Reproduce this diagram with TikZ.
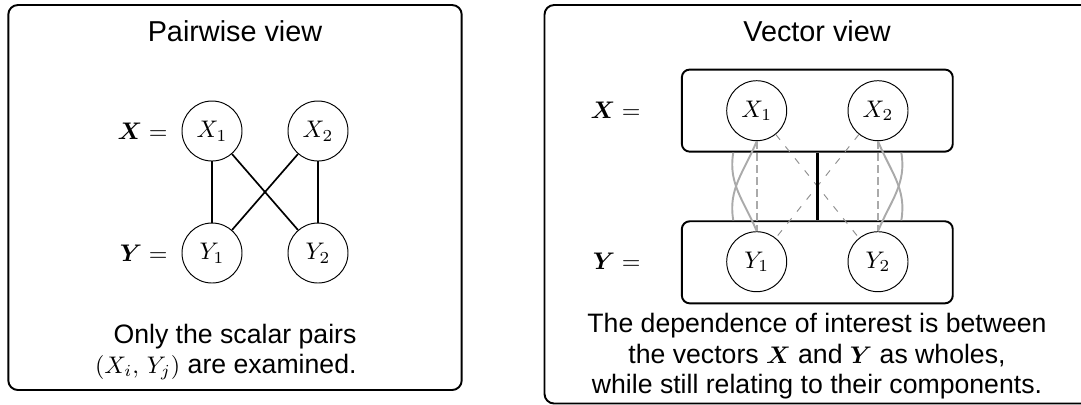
\documentclass[tikz,border=0pt]{standalone}
\usepackage{amsmath}
\usepackage[no-math]{fontspec}
\setsansfont{Liberation Sans}
\usetikzlibrary{calc}
\definecolor{lgray}{RGB}{170,170,170}
\definecolor{mgray}{RGB}{145,145,145}
\newcommand\mth[1]{{\fontsize{10}{12}\selectfont$#1$}}
\tikzset{
  frame/.style={draw, line width=0.8pt, rounded corners=4pt},
  title/.style={anchor=base, font=\fontsize{12}{14}\sffamily\selectfont, inner sep=0},
  body/.style={anchor=base, font=\fontsize{11.1}{13}\sffamily\selectfont, inner sep=0},
  var/.style={circle, draw, line width=0.4pt, minimum size=25pt, inner sep=0, fill=white, font=\fontsize{10}{12}\selectfont},
  lab/.style={anchor=east, inner sep=0, font=\fontsize{10}{12}\selectfont},
  pair/.style={line width=0.7pt},
  vecbox/.style={draw, line width=0.8pt, rounded corners=3.3pt, minimum width=112.9pt, minimum height=34.2pt, inner sep=0},
  twist/.style={draw=lgray, line width=0.8pt},
  vlink/.style={draw=lgray, line width=0.7pt, dash pattern=on 3.4pt off 1.6pt},
  dlink/.style={draw=mgray, line width=0.4pt, dash pattern=on 2.8pt off 3.6pt},
  whole/.style={line width=1.5pt},
}
\begin{document}
\begin{tikzpicture}[x=0.41667pt, y=-0.41667pt]
\useasboundingbox (0,0) rectangle (1081,404);
\clip (0,0) rectangle (1081,404);
% ---------- left panel ----------
\draw[frame] (8.3,5) rectangle (461.7,390);
\node[title] (t1) at (235,41.7) {Pairwise view};
\node[var] (pX1) at (212,131) {$X_1$};
\node[var] (pX2) at (318,131) {$X_2$};
\node[var] (pY1) at (212,253) {$Y_1$};
\node[var] (pY2) at (318,253) {$Y_2$};
\node[lab] (pXl) at (168,131) {$\boldsymbol{X} =$};
\node[lab] (pYl) at (168,253) {$\boldsymbol{Y} =$};
\draw[pair] (pX1) -- (pY1);
\draw[pair] (pX2) -- (pY2);
\draw[pair] (pX1) -- (pY2);
\draw[pair] (pX2) -- (pY1);
\node[body] (p1) at (235,343.3) {Only the scalar pairs};
\node[body, anchor=base east] (p2) at (357,373.3) {\mth{(X_i,\,Y_j)} are examined.};
% ---------- right panel (cut off at right and bottom) ----------
\draw[frame] (1100,5) -- (544.5,5) -- (544.5,403.5) -- (1100,403.5);
\node[title] (t2) at (817,41.7) {Vector view};
\node[vecbox] (XB) at (817.3,110.6) {};
\node[vecbox] (YB) at (817.3,262.3) {};
\node[var] (X1) at (756.7,110.7) {$X_1$};
\node[var] (X2) at (878,110.7) {$X_2$};
\node[var] (Y1) at (756.7,261.7) {$Y_1$};
\node[var] (Y2) at (878,261.7) {$Y_2$};
\node[lab] (vXl) at (641,110.7) {$\boldsymbol{X} =$};
\node[lab] (vYl) at (641,261.7) {$\boldsymbol{Y} =$};
\coordinate (xl) at ($(XB.south)+(-84,0)$);
\coordinate (xr) at ($(XB.south)+(84,0)$);
\coordinate (yl) at ($(YB.north)+(-84,0)$);
\coordinate (yr) at ($(YB.north)+(84,0)$);
\draw[vlink] (X1) -- (Y1);
\draw[vlink] (X2) -- (Y2);
\draw[dlink] (X1) -- (Y2);
\draw[dlink] (X2) -- (Y1);
\draw[twist] (xl) to[out=-100,in=112] (Y1.north);
\draw[twist] (X1.south) to[out=-112,in=100] (yl);
\draw[twist] (X2.south) to[out=-68,in=80] (yr);
\draw[twist] (xr) to[out=-80,in=68] (Y2.north);
\draw[whole] (XB.south) -- (YB.north);
\node[body] (v1) at (817,332.3) {The dependence of interest is between};
\node[body] (v2) at (817,363.3) {the vectors \mth{\boldsymbol{X}} and \mth{\boldsymbol{Y}} as wholes,};
\node[body] (v3) at (817,393.3) {while still relating to their components.};
\end{tikzpicture}
\end{document}
